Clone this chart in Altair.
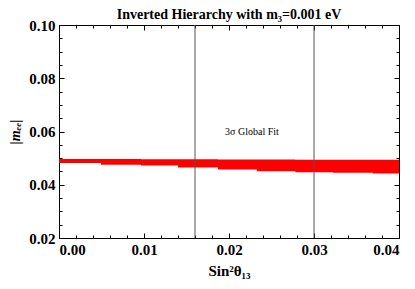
import altair as alt
import pandas as pd

# ---- data ----
x_steps = [0.0, 0.00494, 0.00965, 0.0140, 0.0187, 0.0233, 0.0278, 0.0322, 0.0369, 0.04]
band_low = [0.0482, 0.0475, 0.0472, 0.0465, 0.0457, 0.0451, 0.0447, 0.0445, 0.0442, 0.0442]
band_high = [0.0497, 0.0497, 0.0496, 0.0496, 0.0495, 0.0495, 0.0494, 0.0494, 0.0494, 0.0494]

fit_bounds = [0.016, 0.030]

label_text = ["3\u03c3 Global Fit"]
label_x = [0.0227]
label_y = [0.0585]

x_major = [0.00, 0.01, 0.02, 0.03, 0.04]
x_minor = [0.000, 0.002, 0.004, 0.006, 0.008, 0.010, 0.012, 0.014, 0.016, 0.018,
           0.020, 0.022, 0.024, 0.026, 0.028, 0.030, 0.032, 0.034, 0.036, 0.038, 0.040]
y_major = [0.02, 0.04, 0.06, 0.08, 0.10]
y_minor = [0.020, 0.025, 0.030, 0.035, 0.040, 0.045, 0.050, 0.055, 0.060, 0.065,
           0.070, 0.075, 0.080, 0.085, 0.090, 0.095, 0.100]

FONT = "Liberation Serif"

band_df = pd.DataFrame({"x": x_steps, "lo": band_low, "hi": band_high})
rule_df = pd.DataFrame({"x": fit_bounds})
text_df = pd.DataFrame({"t": label_text, "x": label_x, "y": label_y})

xs = alt.Scale(domain=[0.0, 0.04], nice=False, zero=False)
ys = alt.Scale(domain=[0.02, 0.10], nice=False, zero=False)

common = dict(domain=False, grid=False, tickColor="black", tickWidth=1)

def ax(orient, values, size, labels=False, **kw):
    return alt.Axis(orient=orient, values=values, tickSize=size, offset=-size,
                    labels=labels, **common, **kw)

# main band with labelled axes
band = alt.Chart(band_df).mark_area(color="#ff0000", interpolate="step-after").encode(
    x=alt.X("x:Q", scale=xs,
            axis=ax("bottom", x_major, 5, labels=True, format=".2f",
                    labelFont=FONT, labelFontSize=15, labelFontWeight="bold",
                    labelColor="black", labelPadding=4,
                    title="Sin\u00b2\u03b8\u2081\u2083", titleFont=FONT,
                    titleFontSize=15, titleFontWeight="bold", titleColor="black",
                    titlePadding=6)),
    y=alt.Y("lo:Q", scale=ys,
            axis=ax("left", y_major, 5, labels=True, format=".2f",
                    labelFont=FONT, labelFontSize=15, labelFontWeight="bold",
                    labelColor="black", labelPadding=4,
                    title="|m\u2091\u2091|", titleFont=FONT, titleFontSize=14,
                    titleFontWeight="bold", titleFontStyle="italic",
                    titleColor="black", titlePadding=6)),
    y2="hi:Q",
)

minor_bl = alt.Chart(band_df).mark_area(opacity=0).encode(
    x=alt.X("x:Q", scale=xs, axis=ax("bottom", x_minor, 3, title=None)),
    y=alt.Y("lo:Q", scale=ys, axis=ax("left", y_minor, 3, title=None)),
)

major_tr = alt.Chart(band_df).mark_area(opacity=0).encode(
    x=alt.X("x:Q", scale=xs, axis=ax("top", x_major, 5, title=None)),
    y=alt.Y("lo:Q", scale=ys, axis=ax("right", y_major, 5, title=None)),
)

minor_tr = alt.Chart(band_df).mark_area(opacity=0).encode(
    x=alt.X("x:Q", scale=xs, axis=ax("top", x_minor, 3, title=None)),
    y=alt.Y("lo:Q", scale=ys, axis=ax("right", y_minor, 3, title=None)),
)

rules = alt.Chart(rule_df).mark_rule(color="#555555", strokeWidth=1).encode(
    x=alt.X("x:Q", scale=xs, axis=None),
)

text = alt.Chart(text_df).mark_text(font=FONT, fontSize=10, color="black",
                                    align="center", baseline="alphabetic").encode(
    x=alt.X("x:Q", scale=xs, axis=None),
    y=alt.Y("y:Q", scale=ys, axis=None),
    text="t:N",
)

chart = alt.layer(band, minor_bl, major_tr, minor_tr, rules, text).resolve_axis(
    x="independent", y="independent"
).properties(
    width=340,
    height=213,
    autosize=alt.AutoSizeParams(type="none"),
    padding={"left": 51, "top": 17, "right": 8, "bottom": 43},
    title=alt.TitleParams(
        "Inverted Hierarchy with m\u2083=0.001 eV",
        font=FONT, fontSize=14, fontWeight="bold", color="black",
        anchor="middle", offset=-4,
    ),
).configure_view(stroke="black", strokeWidth=1)

chart.save("out.html", embed_options={"renderer": "svg", "actions": False})
